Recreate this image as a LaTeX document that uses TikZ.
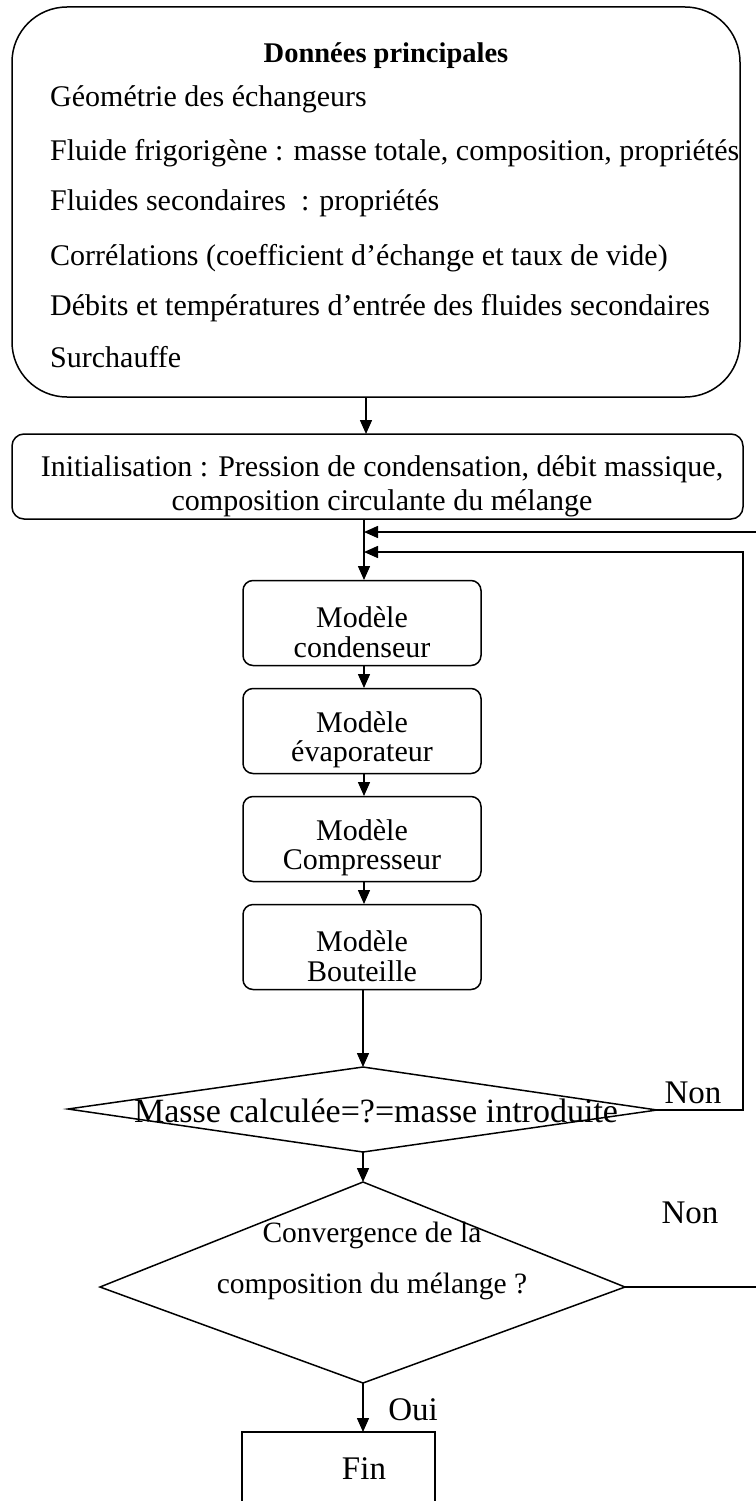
\documentclass[tikz,border=0pt]{standalone}
\usepackage{fontspec}
\setmainfont{Liberation Serif}
\usetikzlibrary{arrows.meta}
\begin{document}
\begin{tikzpicture}[x=1pt,y=-1pt,
  every node/.style={font=\fontsize{30}{34}\selectfont, inner sep=0pt},
  ln/.style={line width=1.5pt},
  arr/.style={ln,-{Triangle[length=14pt,width=12pt]}},
  modbox/.style={draw, ln, rounded corners=10pt, minimum width=238pt, minimum height=85pt},
  mtext/.style={align=center, yshift=-9pt, font=\fontsize{30}{29.5}\selectfont},
  txt/.style={anchor=mid west},
  lab/.style={font=\fontsize{33}{36}\selectfont}]
\useasboundingbox (0,0) rectangle (755,1501);
% top box
\node[draw, ln, rounded corners=55pt, minimum width=728pt, minimum height=390pt] (top) at (376,202) {};
\node[font=\fontsize{28.5}{33}\selectfont\bfseries] (title) at (386,56) {Données principales};
\node[txt] (l1) at (50,104) {Géométrie des échangeurs};
\node[txt] (l2) at (50,158) {Fluide frigorigène : masse totale, composition, propriétés};
\node[txt] (l3) at (50,208) {Fluides secondaires~ : propriétés};
\node[txt] (l4) at (50,263) {Corrélations (coefficient d’échange et taux de vide)};
\node[txt] (l5) at (50,313) {Débits et températures d’entrée des fluides secondaires};
\node[txt] (l6) at (50,365) {Surchauffe};
% init
\node[draw, ln, rounded corners=12pt, minimum width=731pt, minimum height=85pt] (init) at (377.5,476.5) {};
\node[align=center] (initt) at (382,486) {Initialisation : Pression de condensation, débit massique,\\ composition circulante du mélange};
% models
\node[modbox] (cond) at (362,623) {};
\node[modbox] (evap) at (362,731) {};
\node[modbox] (comp) at (362,839) {};
\node[modbox] (bout) at (362,947) {};
\node[mtext] (condt) at (cond.center) {Modèle\\condenseur};
\node[mtext] (evapt) at (evap.center) {Modèle\\évaporateur};
\node[mtext] (compt) at (comp.center) {Modèle\\Compresseur};
\node[mtext] (boutt) at (bout.center) {Modèle\\Bouteille};
% diamond 1
\coordinate (d1t) at (363,1067);
\coordinate (d1b) at (363,1152);
\coordinate (d1l) at (68,1109);
\coordinate (d1r) at (657,1110);
\draw[ln] (d1t) -- (d1r) -- (d1b) -- (d1l) -- cycle;
\node[font=\fontsize{34}{36}\selectfont] (d1) at (376,1111) {Masse calculée=?=masse introduite};
% diamond 2
\coordinate (d2t) at (363,1182);
\coordinate (d2b) at (363,1383);
\coordinate (d2l) at (100,1287);
\coordinate (d2r) at (625,1287);
\draw[ln] (d2t) -- (d2r) -- (d2b) -- (d2l) -- cycle;
\node[align=center, font=\fontsize{29.5}{51}\selectfont] (d2) at (372,1261) {Convergence de la\\composition du mélange ?};
% fin
\coordinate (fintl) at (242,1432);
\coordinate (fintr) at (435,1432);
\draw[ln] (242,1520) -- (fintl) -- (fintr) -- (435,1520);
\node[lab] (fin) at (364,1469) {Fin};
\coordinate (fint) at (363,1432);
% main flow
\coordinate (topb) at (366,397);
\draw[arr] (topb) -- (366,434);
\coordinate (m0) at (364,519);
\draw[arr] (m0) -- (364,580);
\draw[arr] (cond.south -| 364,0) -- (364,688);
\draw[arr] (evap.south -| 364,0) -- (364,796);
\draw[arr] (comp.south -| 364,0) -- (364,904);
\draw[arr] (bout.south -| 363,0) -- (d1t);
\draw[arr] (d1b) -- (d2t);
\draw[arr] (d2b) -- (fint);
% loops
\coordinate (outer) at (756,532);
\coordinate (inner) at (743,552);
\draw[arr] (outer) -- (364,532);
\draw[arr] (d1r) -- (743,1110) -- (inner) -- (364,552);
\coordinate (d2out) at (756,1287);
\draw[ln] (d2r) -- (d2out);
% labels
\node[lab] (non1) at (693,1093) {Non};
\node[lab] (non2) at (690,1213) {Non};
\node[lab] (oui) at (413,1410) {Oui};
\end{tikzpicture}
\end{document}
